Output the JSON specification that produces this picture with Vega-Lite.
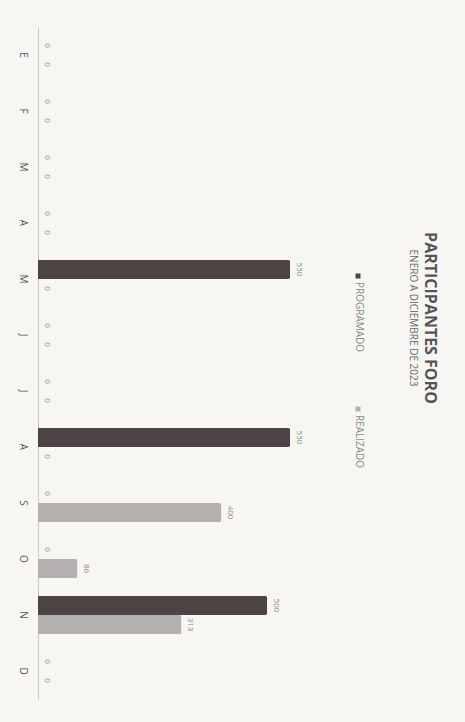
{
  "$schema": "https://vega.github.io/schema/vega-lite/v6.json",
  "width": 275,
  "height": 672,
  "autosize": {"type": "none"},
  "padding": {"left": 38, "top": 27, "right": 152, "bottom": 23},
  "background": "#f7f6f2",
  "title": {
    "text": "PARTICIPANTES FORO",
    "subtitle": "ENERO A DICIEMBRE DE 2023",
    "orient": "right",
    "anchor": "middle",
    "font": "Open Sans",
    "fontSize": 16,
    "fontWeight": "bold",
    "color": "#555555",
    "subtitleFont": "Open Sans",
    "subtitleFontSize": 10,
    "subtitleColor": "#666666",
    "subtitlePadding": 4,
    "offset": 43,
    "dx": -45
  },
  "data": {
    "values": [
      {"mes": "Enero", "serie": "PROGRAMADO", "valor": 0},
      {"mes": "Enero", "serie": "REALIZADO", "valor": 0},
      {"mes": "Febrero", "serie": "PROGRAMADO", "valor": 0},
      {"mes": "Febrero", "serie": "REALIZADO", "valor": 0},
      {"mes": "Marzo", "serie": "PROGRAMADO", "valor": 0},
      {"mes": "Marzo", "serie": "REALIZADO", "valor": 0},
      {"mes": "Abril", "serie": "PROGRAMADO", "valor": 0},
      {"mes": "Abril", "serie": "REALIZADO", "valor": 0},
      {"mes": "Mayo", "serie": "PROGRAMADO", "valor": 550},
      {"mes": "Mayo", "serie": "REALIZADO", "valor": 0},
      {"mes": "Junio", "serie": "PROGRAMADO", "valor": 0},
      {"mes": "Junio", "serie": "REALIZADO", "valor": 0},
      {"mes": "Julio", "serie": "PROGRAMADO", "valor": 0},
      {"mes": "Julio", "serie": "REALIZADO", "valor": 0},
      {"mes": "Agosto", "serie": "PROGRAMADO", "valor": 550},
      {"mes": "Agosto", "serie": "REALIZADO", "valor": 0},
      {"mes": "Septiembre", "serie": "PROGRAMADO", "valor": 0},
      {"mes": "Septiembre", "serie": "REALIZADO", "valor": 400},
      {"mes": "Octubre", "serie": "PROGRAMADO", "valor": 0},
      {"mes": "Octubre", "serie": "REALIZADO", "valor": 86},
      {"mes": "Noviembre", "serie": "PROGRAMADO", "valor": 500},
      {"mes": "Noviembre", "serie": "REALIZADO", "valor": 313},
      {"mes": "Diciembre", "serie": "PROGRAMADO", "valor": 0},
      {"mes": "Diciembre", "serie": "REALIZADO", "valor": 0}
    ]
  },
  "encoding": {
    "y": {
      "field": "mes",
      "type": "nominal",
      "sort": ["Enero", "Febrero", "Marzo", "Abril", "Mayo", "Junio", "Julio", "Agosto", "Septiembre", "Octubre", "Noviembre", "Diciembre"],
      "scale": {"paddingInner": 0.32, "paddingOuter": 0.16},
      "axis": {
        "title": null,
        "labelExpr": "substring(datum.label, 0, 1)",
        "labelAngle": 90,
        "labelAlign": "center",
        "labelBaseline": "middle",
        "ticks": false,
        "domainColor": "#c8c8c8",
        "labelColor": "#555555",
        "labelFont": "Open Sans",
        "labelFontSize": 10,
        "labelPadding": 16
      }
    },
    "yOffset": {"field": "serie", "type": "nominal", "sort": ["PROGRAMADO", "REALIZADO"]},
    "x": {
      "field": "valor",
      "type": "quantitative",
      "scale": {"domain": [0, 600]},
      "axis": null
    }
  },
  "layer": [
    {
      "mark": {"type": "bar", "cornerRadiusEnd": 2},
      "encoding": {
        "color": {
          "field": "serie",
          "type": "nominal",
          "scale": {"domain": ["PROGRAMADO", "REALIZADO"], "range": ["#4d4345", "#b5b0b0"]},
          "legend": {
            "title": null,
            "orient": "none",
            "legendX": 315,
            "legendY": 244,
            "direction": "vertical",
            "symbolType": "square",
            "symbolSize": 25,
            "labelFont": "Open Sans",
            "labelFontSize": 10,
            "labelColor": "#888888",
            "labelOffset": -4,
            "rowPadding": 51,
            "encode": {
              "labels": {"update": {"angle": {"value": 90}, "align": {"value": "left"}, "baseline": {"value": "middle"}, "dx": {"value": 6}}}
            }
          }
        }
      }
    },
    {
      "mark": {"type": "text", "angle": 90, "align": "center", "baseline": "bottom", "dy": -5, "font": "Open Sans", "fontSize": 8, "color": "#8a8a8a"},
      "encoding": {"text": {"field": "valor", "type": "quantitative"}}
    }
  ],
  "config": {"view": {"stroke": null}}
}
